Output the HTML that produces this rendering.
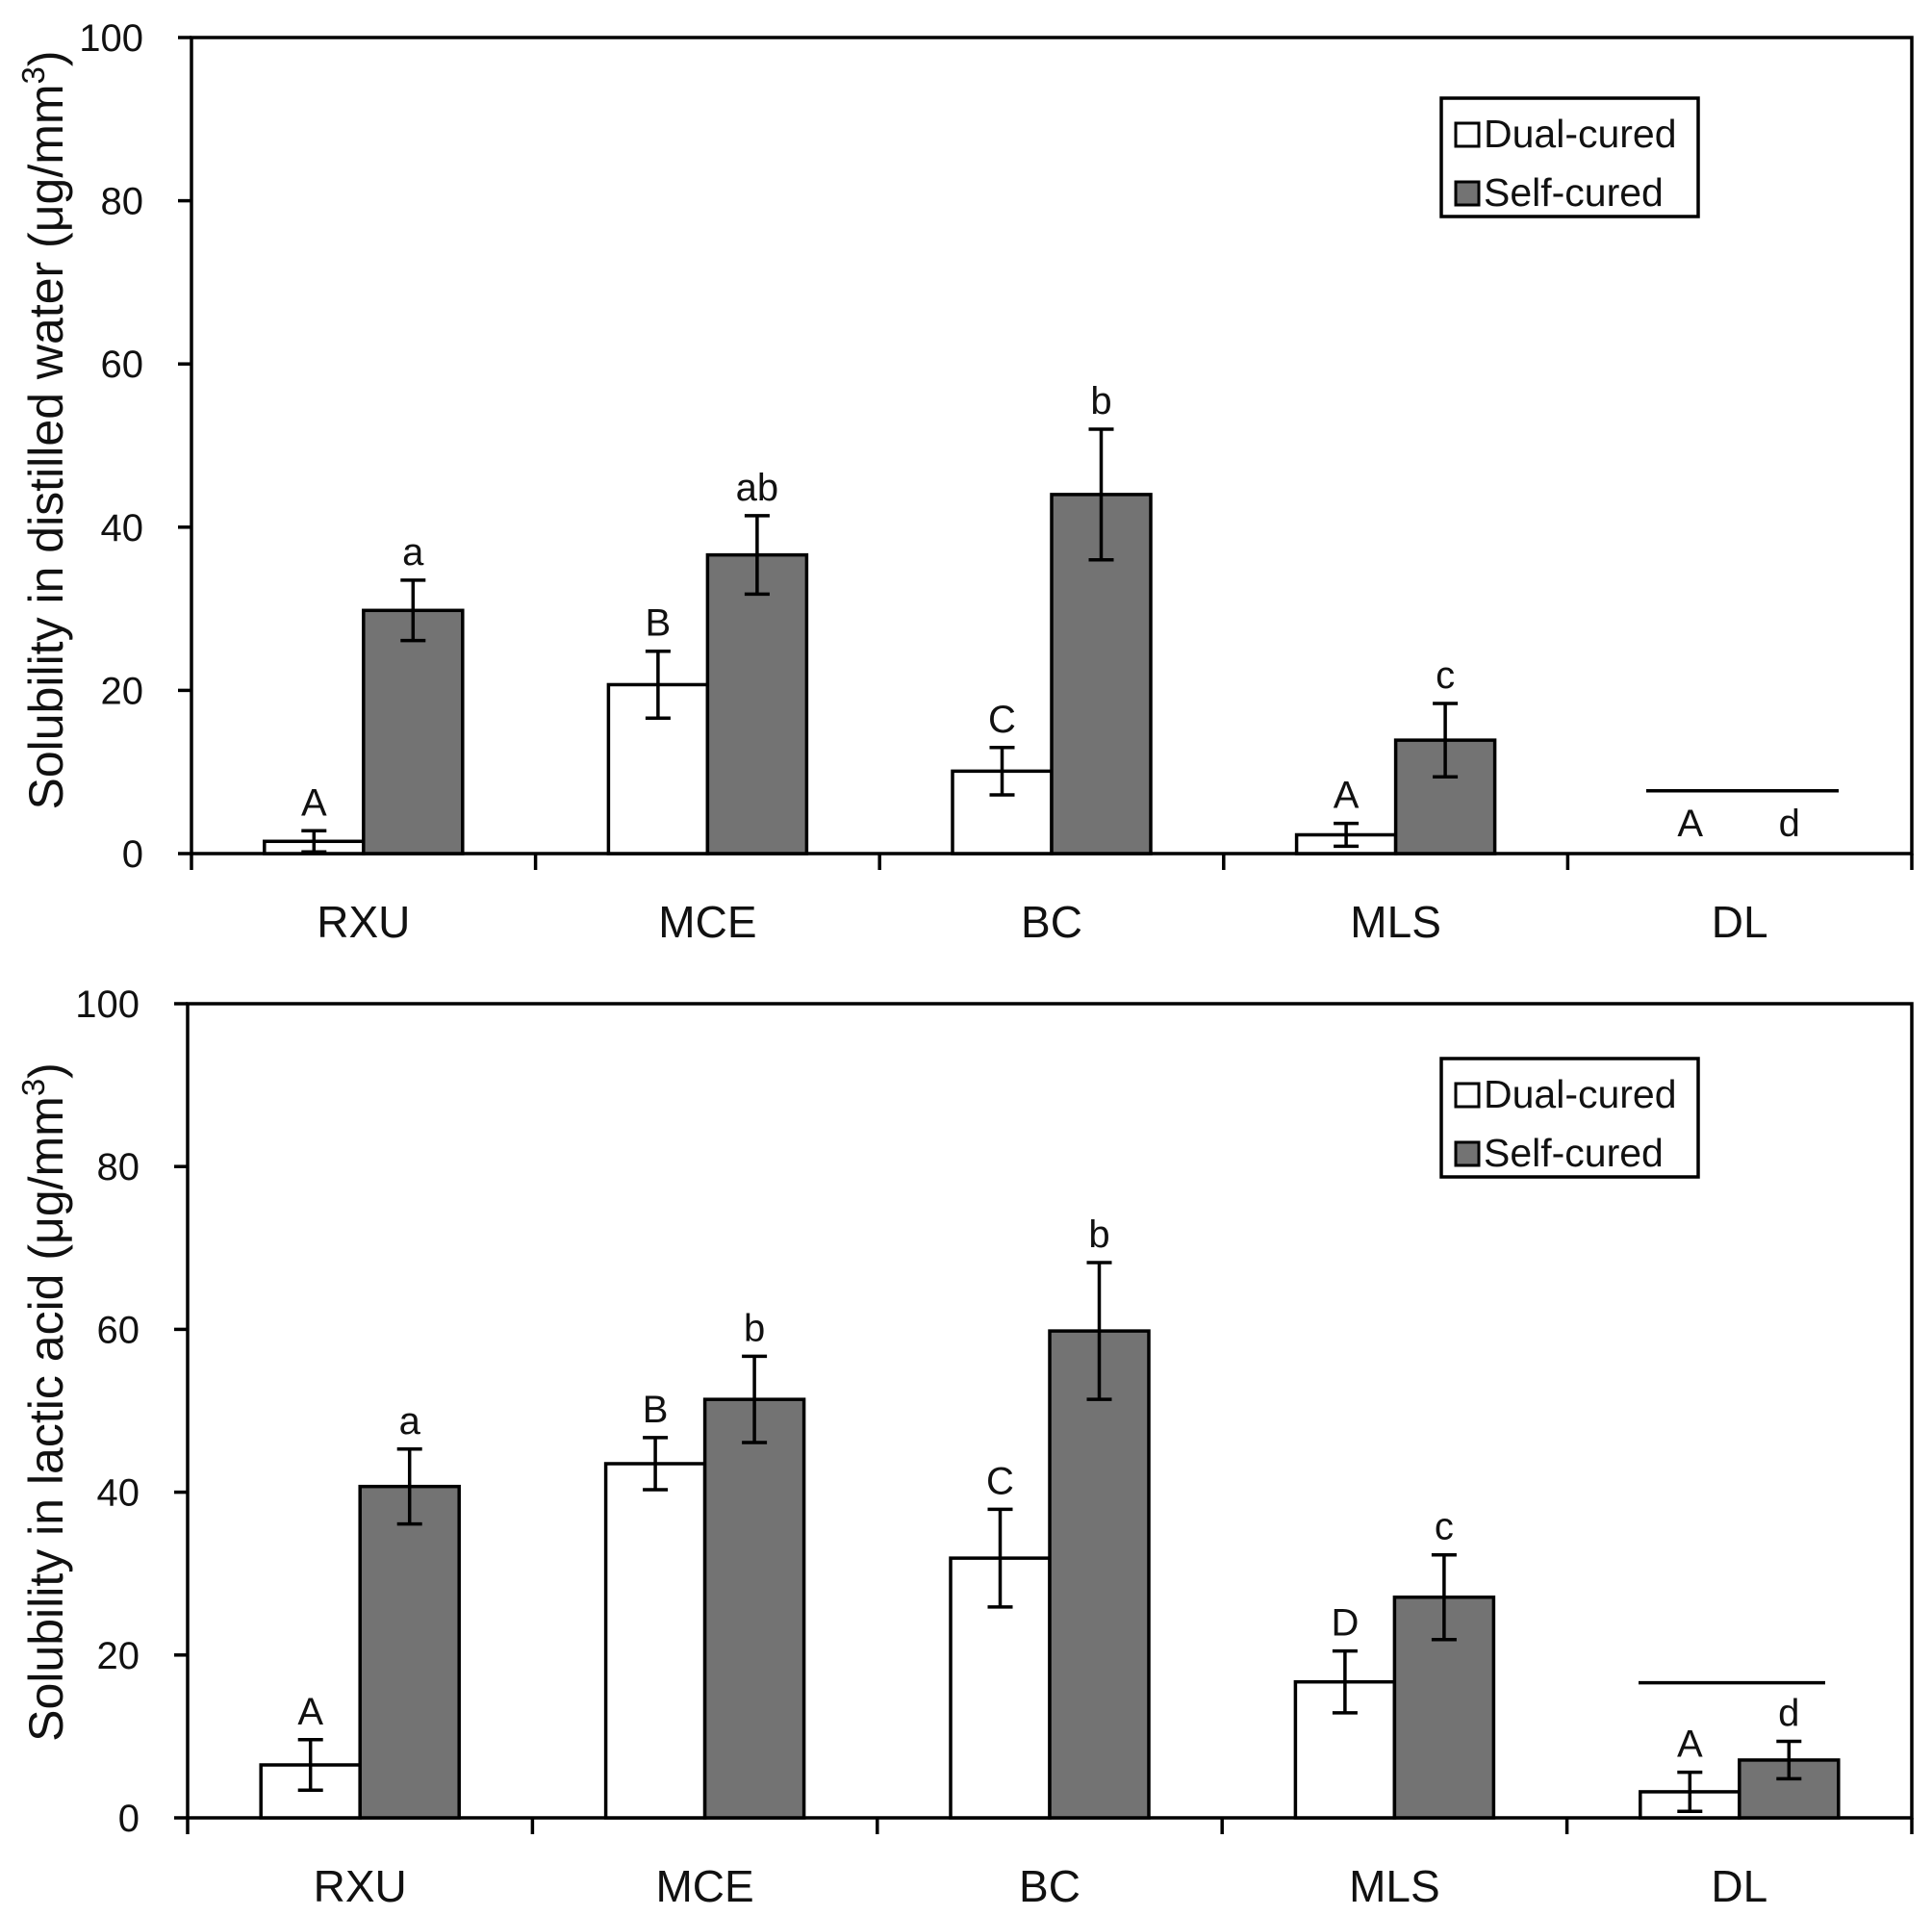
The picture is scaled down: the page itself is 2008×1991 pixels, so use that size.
<!DOCTYPE html>
<html><head><meta charset="utf-8">
<style>
html,body{margin:0;padding:0;background:#fff;}
svg{display:block;font-family:"Liberation Sans",Arial,sans-serif;}
</style></head>
<body>
<svg id="fig" width="2008" height="1991" viewBox="0 0 2008 1991" xmlns="http://www.w3.org/2000/svg"></svg>
<script>
const categories = ["RXU","MCE","BC","MLS","DL"];
const yTicks = [0,20,40,60,80,100];
// Chart 1: distilled water
const waterDual = [1.5, 20.7, 10.1, 2.3, 0];
const waterDualErr = [1.3, 4.1, 2.9, 1.4, 0];
const waterSelf = [29.8, 36.6, 44.0, 13.9, 0];
const waterSelfErr = [3.7, 4.8, 8.0, 4.5, 0];
const waterDualLetters = ["A","B","C","A","A"];
const waterSelfLetters = ["a","ab","b","c","d"];
// Chart 2: lactic acid
const lacticDual = [6.5, 43.5, 31.9, 16.7, 3.2];
const lacticDualErr = [3.1, 3.2, 6.0, 3.8, 2.4];
const lacticSelf = [40.7, 51.4, 59.8, 27.1, 7.1];
const lacticSelfErr = [4.6, 5.3, 8.4, 5.2, 2.3];
const lacticDualLetters = ["A","B","C","D","A"];
const lacticSelfLetters = ["a","b","b","c","d"];

const NS = "http://www.w3.org/2000/svg";
const svg = document.getElementById("fig");
function mk(tag, attrs, parent, text){
  const e = document.createElementNS(NS, tag);
  for (const k in attrs) e.setAttribute(k, attrs[k]);
  if (text !== undefined) e.textContent = text;
  (parent||svg).appendChild(e);
  return e;
}

function drawChart(cfg){
  const g = mk("g", {});
  
  
  const L = cfg.left, R = 1987, T = cfg.top, B = cfg.bottom;
  const y = v => B - (v/100)*(B-T);
  const cw = (R-L)/categories.length;
  const cx = i => L + cw*(i+0.5);
  const bw = 103;
  const SW = 3.5;

  const frame = mk("rect", {x:L, y:T, width:R-L, height:B-T, fill:"none", stroke:"#000", "stroke-width":SW}, g);
  
  

  yTicks.forEach(t => {
    const ln = mk("line", {x1:L-14, x2:L, y1:y(t), y2:y(t), stroke:"#000","stroke-width":SW}, g);
    
    
    const tx = mk("text", {x:L-50, y:y(t)+14, "text-anchor":"end", "font-size":40, fill:"#111"}, g, String(t));
    
    
  });
  for (let i=0;i<=categories.length;i++){
    const x = L + cw*i;
    const ln = mk("line", {x1:x, x2:x, y1:B, y2:B+17, stroke:"#000","stroke-width":SW}, g);
    
    
  }
  categories.forEach((c,i) => {
    const tx = mk("text", {x:cx(i), y:cfg.catY, "text-anchor":"middle", "font-size":46, fill:"#111"}, g, c);
    
    
  });

  function series(vals, errs, letters, offset, fill, sname){
    vals.forEach((v,i) => {
      const xc = cx(i) + offset;
      if (v > 0){
        const r = mk("rect", {x:xc-bw/2, y:y(v), width:bw, height:B-y(v), fill:fill, stroke:"#000","stroke-width":SW}, g);
        
        
      }
      if (errs[i] > 0){
        const e1 = y(v+errs[i]), e2 = y(Math.max(0,v-errs[i]));
        const eg = mk("g", {stroke:"#000","stroke-width":SW}, g);
        
        
        mk("line",{x1:xc,x2:xc,y1:e1,y2:e2},eg);
        mk("line",{x1:xc-13,x2:xc+13,y1:e1,y2:e1},eg);
        mk("line",{x1:xc-13,x2:xc+13,y1:e2,y2:e2},eg);
      }
      const top = v + errs[i];
      const ly = (v===0) ? B-18 : y(top)-16;
      const lt = mk("text", {x:xc, y:ly, "text-anchor":"middle", "font-size":40, fill:"#111"}, g, letters[i]);
      
      
    });
  }
  series(cfg.dual, cfg.dualErr, cfg.dualL, -bw/2, "#fff", "dual");
  series(cfg.self, cfg.selfErr, cfg.selfL, bw/2, "#737373", "self");

  const bl = mk("line", {x1:cfg.brX1, x2:cfg.brX2, y1:y(cfg.brV), y2:y(cfg.brV), stroke:"#000","stroke-width":SW}, g);
  
  

  const yt = mk("text", {x:0, y:0, transform:`translate(${cfg.titleX},${cfg.titleY}) rotate(-90)`, "text-anchor":"middle", "font-size":50, fill:"#111"}, g);
  
  
  yt.appendChild(document.createTextNode(cfg.title + " (μg/mm"));
  mk("tspan", {"font-size":33, dy:-19}, yt, "3");
  mk("tspan", {dy:19, "font-size":50}, yt, ")");

  const lg = mk("g", {}, g);
  
  
  const lx = 1498, ly0 = cfg.legTop;
  mk("rect", {x:lx, y:ly0, width:267, height:123, fill:"#fff", stroke:"#000","stroke-width":SW}, lg);
  const e1 = mk("g", {}, lg);
  
  
  mk("rect", {x:lx+15, y:ly0+26, width:24, height:24, fill:"#fff", stroke:"#000","stroke-width":3}, e1);
  mk("text", {x:lx+44, y:ly0+51, "font-size":41, fill:"#111"}, e1, "Dual-cured");
  const e2 = mk("g", {}, lg);
  
  
  mk("rect", {x:lx+15, y:ly0+87, width:24, height:24, fill:"#737373", stroke:"#000","stroke-width":3}, e2);
  mk("text", {x:lx+44, y:ly0+112, "font-size":41, fill:"#111"}, e2, "Self-cured");
}

drawChart({name:"water-chart", left:199, top:39, bottom:887, catY:974,
  dual:waterDual, dualErr:waterDualErr, self:waterSelf, selfErr:waterSelfErr,
  dualL:waterDualLetters, selfL:waterSelfLetters,
  brX1:1711, brX2:1911, brV:7.7, title:"Solubility in distilled water", titleX:65, titleY:447, legTop:102});
drawChart({name:"lactic-chart", left:195, top:1043, bottom:1889, catY:1976,
  dual:lacticDual, dualErr:lacticDualErr, self:lacticSelf, selfErr:lacticSelfErr,
  dualL:lacticDualLetters, selfL:lacticSelfLetters,
  brX1:1703, brX2:1897, brV:16.6, title:"Solubility in lactic acid", titleX:65, titleY:1457, legTop:1100});
</script>
</body></html>
